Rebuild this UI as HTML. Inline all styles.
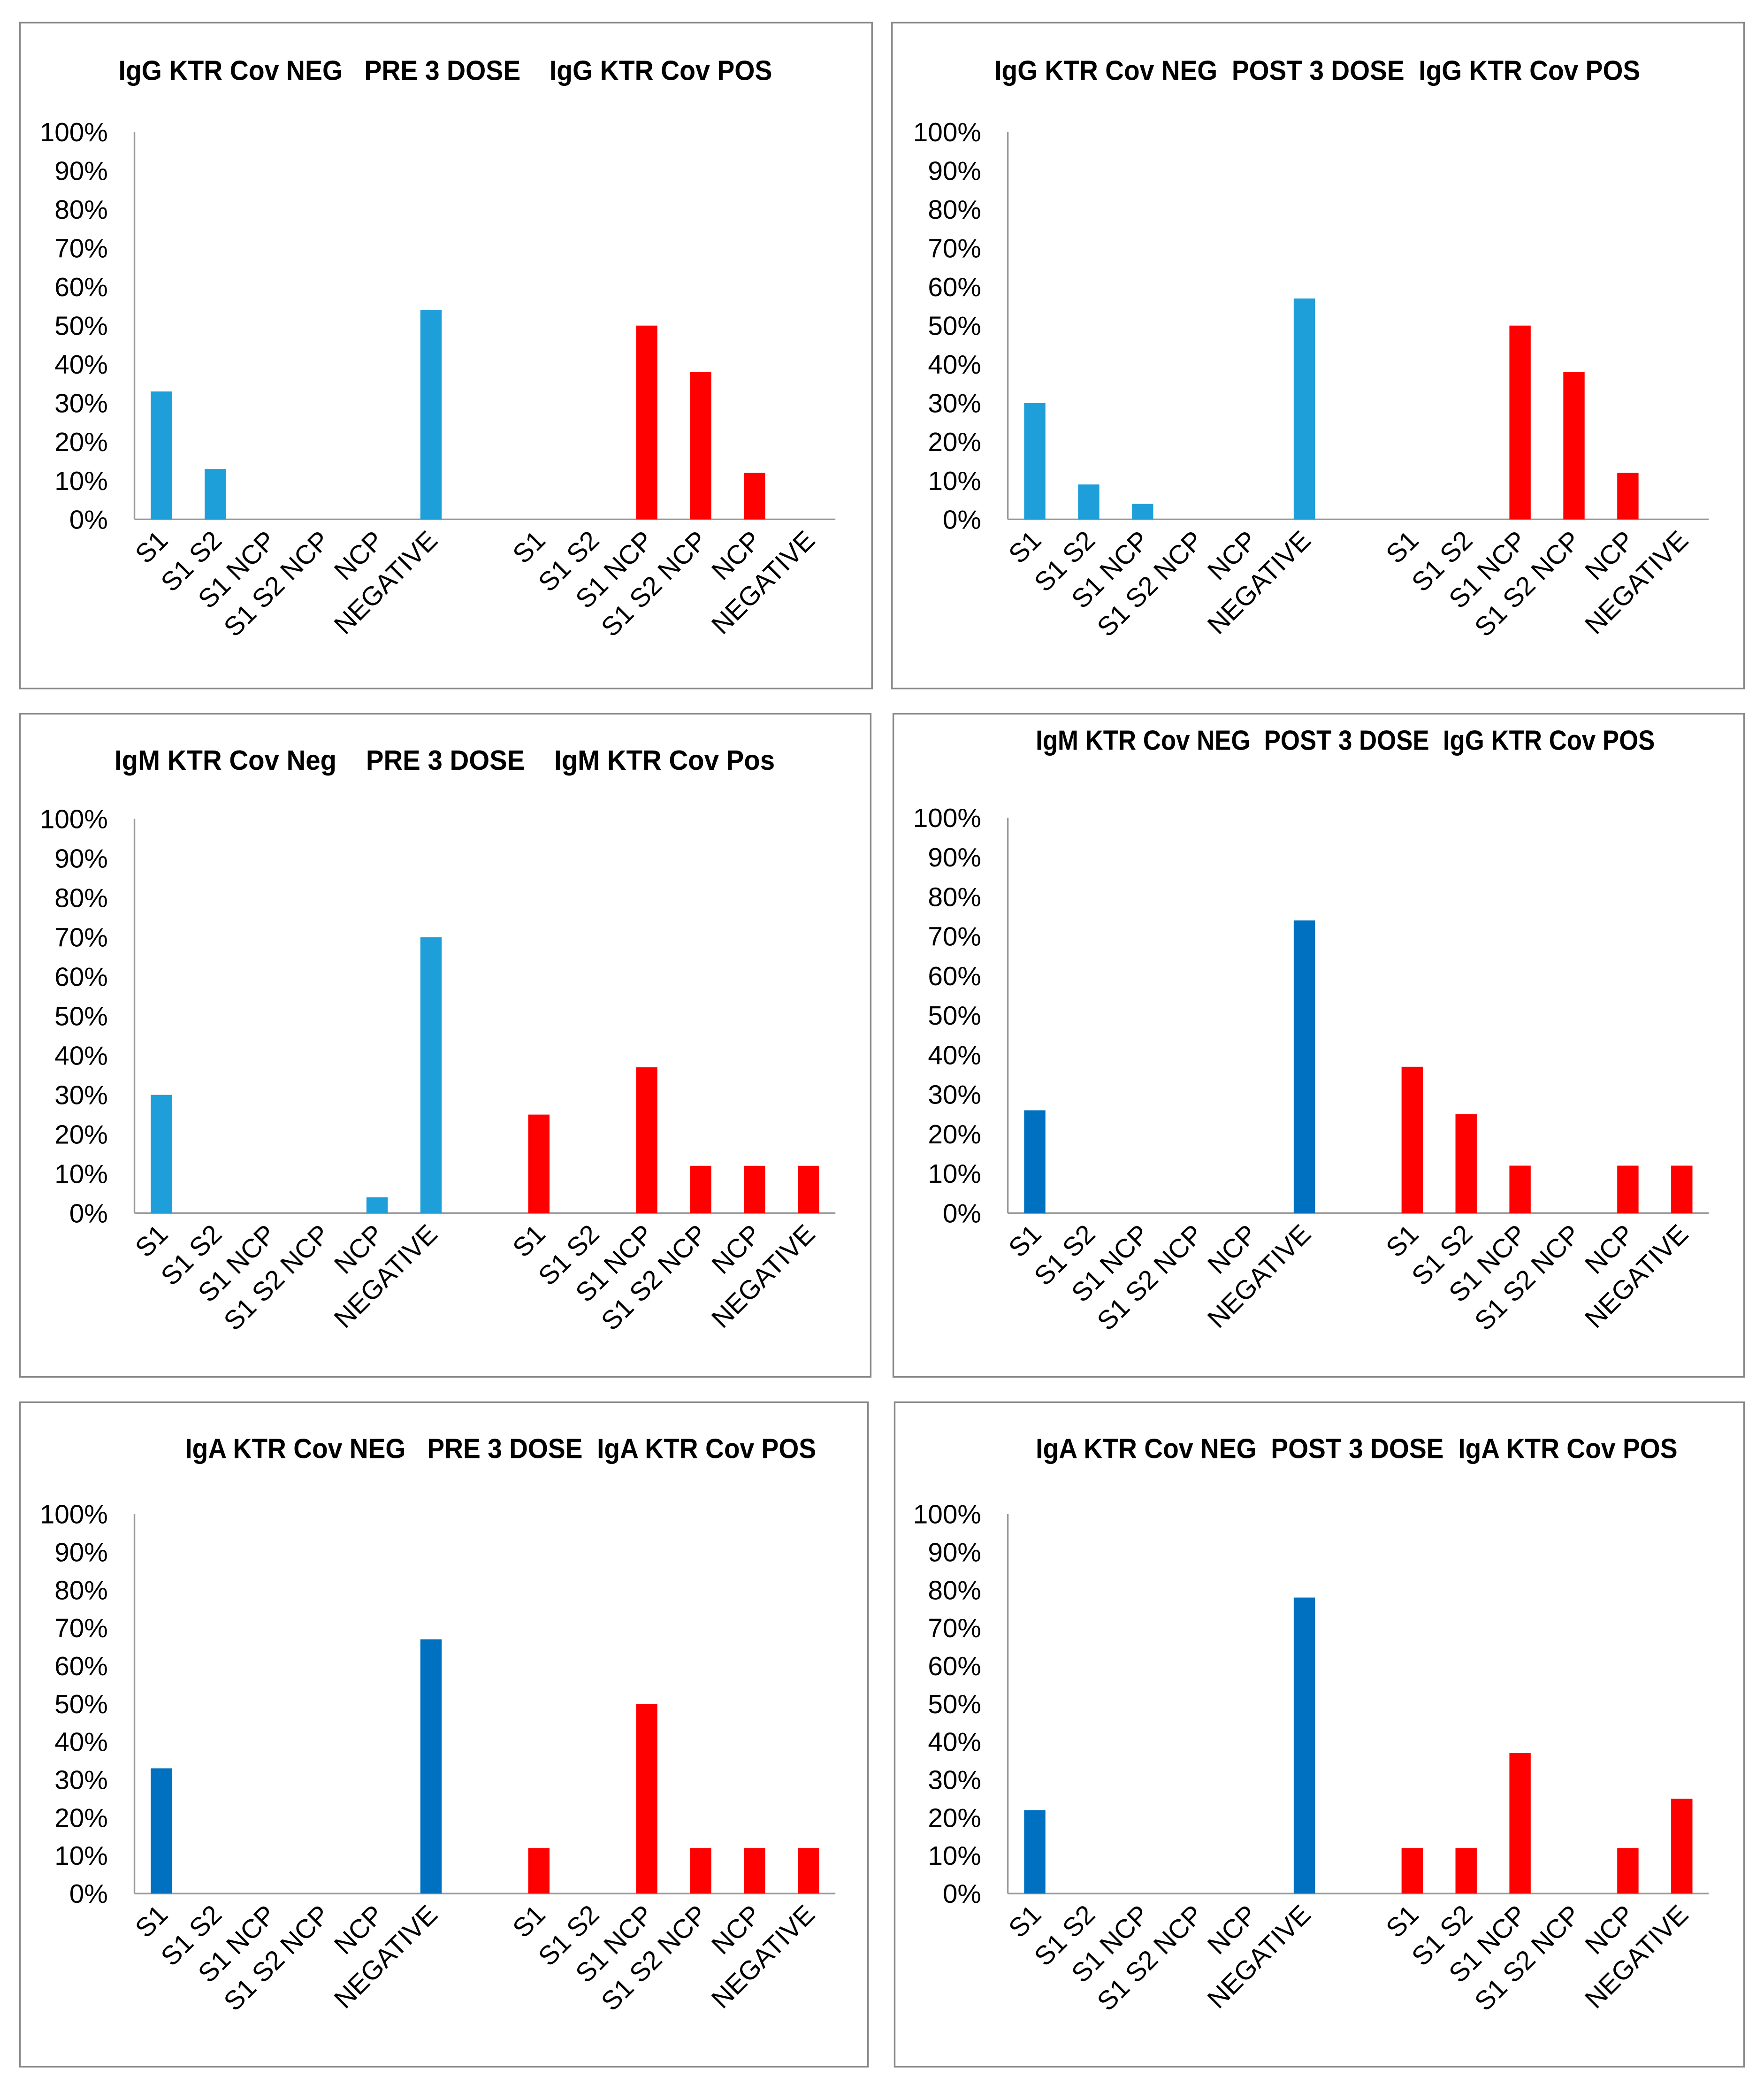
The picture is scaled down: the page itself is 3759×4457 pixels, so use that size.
<!DOCTYPE html>
<html><head><meta charset="utf-8"><style>
html,body{margin:0;padding:0;background:#fff}
svg{display:block}
text{font-family:"Liberation Sans",sans-serif;fill:#000}
</style></head><body>
<svg id="fig" width="3759" height="4457" viewBox="0 0 1325 1571" xmlns="http://www.w3.org/2000/svg"></svg>
<script>
const categories = ["S1","S1 S2","S1 NCP","S1 S2 NCP","NCP","NEGATIVE"];
const yTicks = [0,10,20,30,40,50,60,70,80,90,100];
const titles = [
 "IgG KTR Cov NEG   PRE 3 DOSE    IgG KTR Cov POS",
 "IgG KTR Cov NEG  POST 3 DOSE  IgG KTR Cov POS",
 "IgM KTR Cov Neg    PRE 3 DOSE    IgM KTR Cov Pos",
 "IgM KTR Cov NEG  POST 3 DOSE  IgG KTR Cov POS",
 "IgA KTR Cov NEG   PRE 3 DOSE  IgA KTR Cov POS",
 "IgA KTR Cov NEG  POST 3 DOSE  IgA KTR Cov POS"
];
const negValues = [
 [33,13,0,0,0,54],
 [30,9,4,0,0,57],
 [30,0,0,0,4,70],
 [26,0,0,0,0,74],
 [33,0,0,0,0,67],
 [22,0,0,0,0,78]
];
const posValues = [
 [0,0,50,38,12,0],
 [0,0,50,38,12,0],
 [25,0,37,12,12,12],
 [37,25,12,0,12,12],
 [12,0,50,12,12,12],
 [12,12,37,0,12,25]
];
const NS="http://www.w3.org/2000/svg";
const svg=document.getElementById('fig');
function mk(tag,attrs,parent){const e=document.createElementNS(NS,tag);for(const k in attrs)e.setAttribute(k,attrs[k]);(parent||svg).appendChild(e);return e;}
const layout=[
 {bx:15,by:17,bw:640,bh:500,ax:101,y0:390,y100:99,tx:89,ty:60,tw:491},
 {bx:670,by:17,bw:640,bh:500,ax:757,y0:390,y100:99,tx:747,ty:60,tw:485},
 {bx:15,by:536,bw:639,bh:498,ax:101,y0:911,y100:615,tx:86,ty:578,tw:496},
 {bx:671,by:536,bw:639,bh:498,ax:757,y0:911,y100:614,tx:778,ty:563,tw:465},
 {bx:15,by:1053,bw:637,bh:499,ax:101,y0:1422,y100:1137,tx:139,ty:1095,tw:474},
 {bx:672,by:1053,bw:638,bh:499,ax:757,y0:1422,y100:1137,tx:778,ty:1095,tw:482}
];
const colorsNeg=["#1f9fd9","#1f9fd9","#1f9fd9","#0070c0","#0070c0","#0070c0"];
const slot=40.5;
layout.forEach((L,i)=>{
 const g=mk('g',{});
 
 
 const box=mk('rect',{x:L.bx,y:L.by,width:L.bw,height:L.bh,fill:'#fff',stroke:'#888','stroke-width':1.2},g);
 
 const t=mk('text',{x:L.tx,y:L.ty,'font-size':21,'font-weight':'bold',textLength:L.tw,lengthAdjust:'spacingAndGlyphs',style:'white-space:pre'},g);
 t.textContent=titles[i];
 
 const yS=v=>L.y0-(L.y0-L.y100)*v/100;
 const xS=k=>L.ax+slot*k+slot/2;
 yTicks.forEach(v=>{
  const tt=mk('text',{x:L.ax-20,y:yS(v)+7,'font-size':20,'text-anchor':'end'},g);
  tt.textContent=v+'%';
  
 });
 const ya=mk('line',{x1:L.ax,y1:L.y100,x2:L.ax,y2:L.y0,stroke:'#999','stroke-width':1.2},g);
 
 const xa=mk('line',{x1:L.ax,y1:L.y0,x2:L.ax+13*slot,y2:L.y0,stroke:'#999','stroke-width':1.2},g);
 
 const groups=[[negValues[i],0,colorsNeg[i],'neg'],[posValues[i],7,'#ff0000','pos']];
 groups.forEach(([vals,off,col,nm])=>{
  vals.forEach((v,k)=>{
   const cx=xS(k+off);
   if(v>0){
    const b=mk('rect',{x:cx-8,y:yS(v),width:16,height:L.y0-yS(v),fill:col},g);
    
   }
   const lx=cx+6, ly=L.y0+17;
   const lt=mk('text',{x:lx,y:ly,'font-size':20,'text-anchor':'end',transform:`rotate(-45 ${lx} ${ly})`},g);
   lt.textContent=categories[k];
   
  });
 });
});
</script>
</body></html>
